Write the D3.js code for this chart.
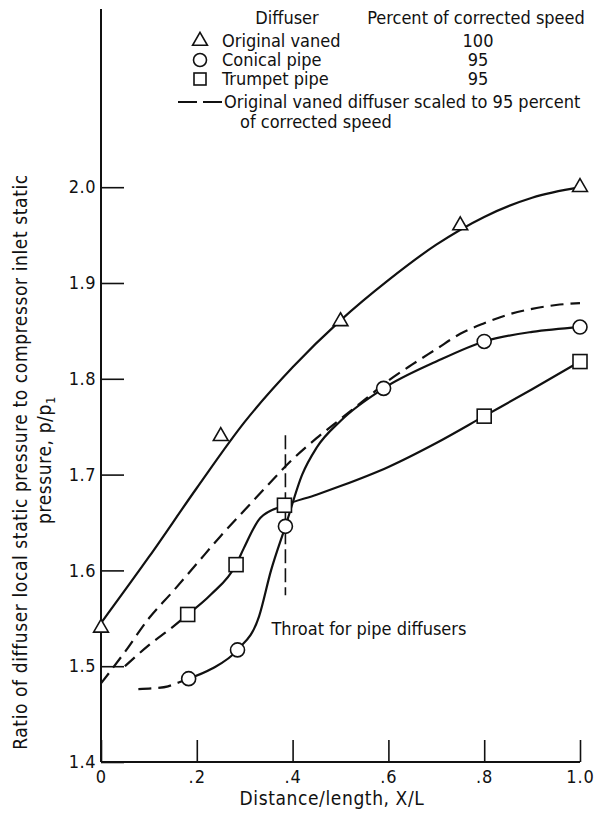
<!DOCTYPE html>
<html>
<head>
<meta charset="utf-8">
<script src="https://cdn.jsdelivr.net/npm/d3@7"></script>
<style>
  body { margin: 0; background: #fff; }
  svg text { font-family: "DejaVu Sans Condensed", "Liberation Sans Narrow", "DejaVu Sans", sans-serif; font-stretch: condensed; fill: #111; }
</style>
</head>
<body>
<svg id="chart"></svg>
<script>
// Axis ticks
const xTicks = [0, 0.2, 0.4, 0.6, 0.8, 1.0];
const xTickLabels = ["0", ".2", ".4", ".6", ".8", "1.0"];
const yTicks = [1.4, 1.5, 1.6, 1.7, 1.8, 1.9, 2.0];
const yTickLabels = ["1.4", "1.5", "1.6", "1.7", "1.8", "1.9", "2.0"];
const yAxisMax = 2.186;

// Measured points (symbols)
const vanedX = [0, 0.25, 0.5, 0.75, 1.0];
const vanedP = [1.54, 1.74, 1.86, 1.96, 2.00];
const conicalX = [0.183, 0.285, 0.385, 0.59, 0.80, 1.0];
const conicalP = [1.487, 1.517, 1.646, 1.790, 1.839, 1.854];
const trumpetX = [0.181, 0.282, 0.383, 0.80, 1.0];
const trumpetP = [1.554, 1.606, 1.668, 1.761, 1.818];

// Faired curves
const vanedCurveX = [0, 0.1, 0.2, 0.3, 0.4, 0.5, 0.6, 0.7, 0.8, 0.9, 1.0];
const vanedCurveP = [1.545, 1.614, 1.686, 1.755, 1.812, 1.861, 1.903, 1.940, 1.969, 1.989, 2.0];
const conicalCurveX = [0.183, 0.23, 0.285, 0.33, 0.355, 0.385, 0.42, 0.45, 0.50, 0.59, 0.70, 0.80, 0.90, 1.0];
const conicalCurveP = [1.487, 1.497, 1.517, 1.552, 1.600, 1.646, 1.700, 1.728, 1.756, 1.790, 1.818, 1.839, 1.849, 1.854];
const trumpetCurveX = [0.181, 0.23, 0.282, 0.298, 0.333, 0.383, 0.45, 0.50, 0.60, 0.70, 0.80, 0.90, 1.0];
const trumpetCurveP = [1.554, 1.575, 1.606, 1.623, 1.655, 1.668, 1.679, 1.688, 1.708, 1.733, 1.761, 1.789, 1.818];

// Original vaned diffuser scaled to 95 percent (dashed)
const scaledX = [0, 0.05, 0.10, 0.15, 0.20, 0.25, 0.30, 0.35, 0.40, 0.45, 0.50, 0.55, 0.60, 0.65, 0.70, 0.75, 0.80, 0.85, 0.90, 0.95, 1.0];
const scaledP = [1.482, 1.515, 1.550, 1.578, 1.607, 1.636, 1.663, 1.690, 1.716, 1.738, 1.758, 1.778, 1.798, 1.815, 1.831, 1.847, 1.858, 1.867, 1.873, 1.877, 1.879];

// Dashed lead-ins
const trumpetLeadX = [0.05, 0.10, 0.15, 0.181];
const trumpetLeadP = [1.500, 1.522, 1.541, 1.554];
const conicalLeadX = [0.078, 0.11, 0.14, 0.162, 0.183];
const conicalLeadP = [1.476, 1.477, 1.479, 1.483, 1.487];

// Throat marker
const throatX = 0.385;
const throatP = [1.574, 1.741];

// Legend
const legendNames = ["Original vaned", "Conical pipe", "Trumpet pipe"];
const legendSpeed = ["100", "95", "95"];
const legendKinds = ["tri", "circle", "square"];

const width = 597, height = 817;
const margin = {top: 9, right: 17, bottom: 55, left: 101};

const svg = d3.select("#chart")
  .attr("width", width)
  .attr("height", height);

const x = d3.scaleLinear()
  .domain([0, 1])
  .range([margin.left, width - margin.right]);

const y = d3.scaleLinear()
  .domain([1.4, yAxisMax])
  .range([height - margin.bottom, margin.top]);

const zip = (xs, ps) => xs.map((v, i) => [v, ps[i]]);

// Axes
const yAxis = svg.append("g")
  .attr("transform", `translate(${x(0)},0)`)
  .call(d3.axisLeft(y).tickValues(yTicks).tickSize(-23).tickSizeOuter(0).tickPadding(5)
    .tickFormat((d, i) => yTickLabels[i]));
yAxis.select(".domain").remove();
yAxis.selectAll("line").attr("stroke", "#111").attr("stroke-width", 1.6);
yAxis.selectAll("text").style("font-size", "18px").style("letter-spacing", "0.5px");

const xAxis = svg.append("g")
  .attr("transform", `translate(0,${y(1.4)})`)
  .call(d3.axisBottom(x).tickValues(xTicks).tickSize(-22).tickSizeOuter(0).tickPadding(8)
    .tickFormat((d, i) => xTickLabels[i]));
xAxis.select(".domain").remove();
xAxis.selectAll("line").attr("stroke", "#111").attr("stroke-width", 1.6);
xAxis.selectAll("text").style("font-size", "18px").style("letter-spacing", "1px");

svg.append("line")
  .attr("x1", x(0)).attr("x2", x(0))
  .attr("y1", y(1.4)).attr("y2", y(yAxisMax))
  .attr("stroke", "#111").attr("stroke-width", 2);
svg.append("line")
  .attr("x1", x(0)).attr("x2", x(1))
  .attr("y1", y(1.4)).attr("y2", y(1.4))
  .attr("stroke", "#111").attr("stroke-width", 2);

// Axis titles
svg.append("text")
  .attr("x", 332)
  .attr("y", height - 12)
  .attr("text-anchor", "middle")
  .style("font-size", "19px")
  .style("letter-spacing", "0.6px")
  .text("Distance/length, X/L");

const yTitle = svg.append("g")
  .attr("transform", "rotate(-90)")
  .style("font-size", "19px")
  .style("letter-spacing", "0.6px")
  .attr("text-anchor", "middle");
yTitle.append("text")
  .attr("x", -462).attr("y", 27)
  .text("Ratio of diffuser local static pressure to compressor inlet static");
const t2 = yTitle.append("text")
  .attr("x", -460).attr("y", 51);
t2.append("tspan").text("pressure, p/p");
t2.append("tspan").attr("dy", 4).style("font-size", "13px").text("1");

// Curves
const line = d3.line()
  .x(d => x(d[0]))
  .y(d => y(d[1]))
  .curve(d3.curveMonotoneX);

function drawCurve(data, dashed) {
  svg.append("path")
    .datum(data)
    .attr("d", line)
    .attr("fill", "none")
    .attr("stroke", "#111")
    .attr("stroke-width", 2.2)
    .attr("stroke-dasharray", dashed ? "13,7" : null);
}

drawCurve(zip(scaledX, scaledP), true);
drawCurve(zip(trumpetLeadX, trumpetLeadP), true);
drawCurve(zip(conicalLeadX, conicalLeadP), true);
drawCurve(zip(vanedCurveX, vanedCurveP), false);
drawCurve(zip(conicalCurveX, conicalCurveP), false);
drawCurve(zip(trumpetCurveX, trumpetCurveP), false);

// Throat line
svg.append("line")
  .attr("x1", x(throatX)).attr("x2", x(throatX))
  .attr("y1", y(throatP[1])).attr("y2", y(throatP[0]))
  .attr("stroke", "#111").attr("stroke-width", 1.6)
  .attr("stroke-dasharray", "14,5");
svg.append("text")
  .attr("x", x(throatX) - 14)
  .attr("y", y(throatP[0]) + 40)
  .style("font-size", "18px")
  .text("Throat for pipe diffusers");

// Symbols
const tri = d3.symbol().type(d3.symbolTriangle).size(95);

function drawSymbols(xs, ps, kind) {
  const pts = zip(xs, ps);
  const g = svg.append("g");
  if (kind === "tri") {
    g.selectAll("path").data(pts).enter().append("path")
      .attr("d", tri)
      .attr("transform", d => `translate(${x(d[0])},${y(d[1])})`);
  } else if (kind === "circle") {
    g.selectAll("circle").data(pts).enter().append("circle")
      .attr("cx", d => x(d[0])).attr("cy", d => y(d[1])).attr("r", 7);
  } else {
    g.selectAll("rect").data(pts).enter().append("rect")
      .attr("x", d => x(d[0]) - 7).attr("y", d => y(d[1]) - 7)
      .attr("width", 14).attr("height", 14);
  }
  g.selectAll("*").attr("fill", "#fff").attr("stroke", "#111").attr("stroke-width", 1.6);
}

drawSymbols(vanedX, vanedP, "tri");
drawSymbols(conicalX, conicalP, "circle");
drawSymbols(trumpetX, trumpetP, "square");

// Legend
const legend = svg.append("g").style("font-size", "18px");
legend.append("text").attr("x", 287).attr("y", 24).attr("text-anchor", "middle").text("Diffuser");
legend.append("text").attr("x", 476).attr("y", 24).attr("text-anchor", "middle").text("Percent of corrected speed");

legendNames.forEach((name, i) => {
  const cy = 41 + i * 19;
  const row = legend.append("g");
  if (legendKinds[i] === "tri") {
    row.append("path").attr("d", tri).attr("transform", `translate(200,${cy})`);
  } else if (legendKinds[i] === "circle") {
    row.append("circle").attr("cx", 200).attr("cy", cy).attr("r", 6.5);
  } else {
    row.append("rect").attr("x", 194).attr("y", cy - 6).attr("width", 12).attr("height", 12);
  }
  row.selectAll("path,circle,rect").attr("fill", "#fff").attr("stroke", "#111").attr("stroke-width", 1.6);
  row.append("text").attr("x", 222).attr("y", cy + 6).text(name);
  row.append("text").attr("x", 478).attr("y", cy + 6).attr("text-anchor", "middle").text(legendSpeed[i]);
});

legend.append("line")
  .attr("x1", 178).attr("x2", 222).attr("y1", 102).attr("y2", 102)
  .attr("stroke", "#111").attr("stroke-width", 2)
  .attr("stroke-dasharray", "19,6");
legend.append("text").attr("x", 224).attr("y", 108).text("Original vaned diffuser scaled to 95 percent");
legend.append("text").attr("x", 240).attr("y", 128).text("of corrected speed");
</script>
</body>
</html>
